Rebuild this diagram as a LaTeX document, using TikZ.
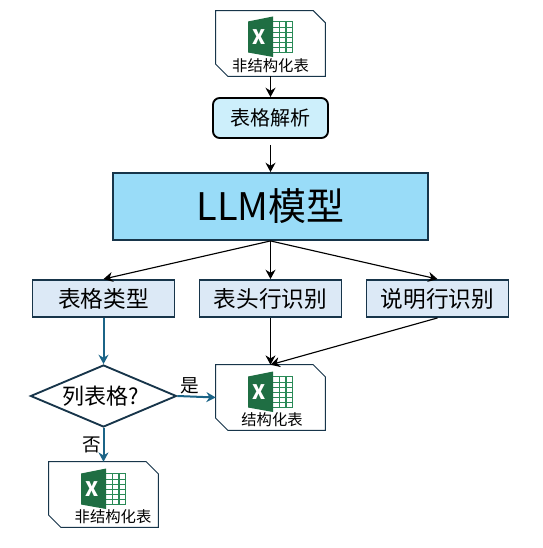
\documentclass[tikz,border=0pt]{standalone}
\usepackage{fontspec}
\setmainfont{Noto Sans CJK SC}
\usetikzlibrary{arrows.meta,shapes.geometric}
\definecolor{edgedark}{HTML}{17354A}
\definecolor{flowblue}{HTML}{1B6487}
\definecolor{parsefill}{HTML}{CDEFFB}
\definecolor{llmfill}{HTML}{99DCF8}
\definecolor{stepfill}{HTML}{DCE9F6}
\definecolor{xldark}{HTML}{1F6E43}
\definecolor{xlmid}{HTML}{2A8A57}
\tikzset{
  docframe/.style={inner sep=0pt,minimum width=81.75pt,minimum height=48.75pt},
  docedge/.style={draw=edgedark,line width=0.75pt,fill=white},
  doclabel/.style={font=\fontsize{11.5}{13}\selectfont,text=black,inner sep=0pt},
  parsebox/.style={draw=black,line width=1.4pt,rounded corners=5pt,fill=parsefill,minimum width=86.25pt,minimum height=30pt,inner sep=0pt,font=\fontsize{15}{18}\selectfont},
  llmbox/.style={draw=edgedark,line width=1.4pt,fill=llmfill,minimum width=236.25pt,minimum height=50.25pt,inner sep=0pt,font=\fontsize{28.5}{32}\selectfont},
  stepbox/.style={draw=edgedark,line width=1.4pt,fill=stepfill,minimum width=106.5pt,minimum height=27.75pt,inner sep=0pt,font=\fontsize{17}{20}\selectfont},
  choice/.style={diamond,draw=edgedark,line width=1.4pt,fill=white,aspect=2.35,minimum width=109.5pt,minimum height=46.5pt,inner sep=0pt,font=\fontsize{16.5}{20}\selectfont},
  arrowk/.style={draw=black,line width=0.85pt,-{Stealth[length=7pt,width=7.5pt]}},
  arrowb/.style={draw=flowblue,line width=1.5pt,-{Stealth[length=7pt,width=7.5pt]}},
  branch/.style={inner sep=0pt,font=\fontsize{14}{16}\selectfont},
}
% name, x, y, label text, label x offset, icon y offset
\newcommand{\docnode}[6]{%
  \node[docframe] (#1) at (#2,#3) {};
  \draw[docedge] (#1.north west) -- ([xshift=-9pt]#1.north east) -- ([yshift=-9pt]#1.north east)
     -- (#1.south east) -- ([xshift=9pt]#1.south west) -- ([yshift=9pt]#1.south west) -- cycle;
  \begin{scope}[shift={(#2,#3+#6)}]
    \draw[xlmid,line width=0.8pt] (2,-22) rectangle (22,9);
    \foreach \yy in {-16,-11,-6,-1,4} \draw[xlmid,line width=1.1pt] (2,\yy) -- (22,\yy);
    \draw[xlmid,line width=1.1pt] (9,-22) -- (9,9) (15.5,-22) -- (15.5,9);
    \fill[xldark] (-22.5,-22) -- (2.5,-27) -- (2.5,13.5) -- (-22.5,9) -- cycle;
    \node[inner sep=0pt,text=white,font=\fontsize{15}{15}\bfseries\selectfont] (#1-x) at (-11,-6.5) {X};
  \end{scope}
  \node[doclabel] (#1-t) at (#2+#5,#3+22) {#4};
}
\begin{document}
\begin{tikzpicture}[x=0.75pt,y=-0.75pt]
\useasboundingbox (0,0) rectangle (542,548);
\docnode{src}{270.5}{43.5}{非结构化表}{0}{0}
\node[parsebox] (parse) at (270.5,118) {表格解析};
\node[llmbox] (llm) at (270.5,206.5) {LLM模型};
\node[stepbox] (type) at (103.5,298.5) {表格类型};
\node[stepbox] (head) at (270.5,298.5) {表头行识别};
\node[stepbox] (note) at (437.5,298.5) {说明行识别};
\node[choice] (q) at (103.5,396) {};
\node[inner sep=0pt,font=\fontsize{16.5}{20}\selectfont] (qt) at (100.5,396) {列表格?};
\docnode{out}{270.5}{397.5}{结构化表}{1.5}{1}
\docnode{raw}{103.5}{494.5}{非结构化表}{9.5}{1}
\draw[arrowk] (src.south) -- (parse.north);
\draw[arrowk,shorten <=4.5pt] (parse.south) -- (llm.north);
\draw[arrowk] (llm.south) -- (type.north);
\draw[arrowk] (llm.south) -- (head.north);
\draw[arrowk] (llm.south) -- (note.north);
\draw[arrowb] (type.south) -- (q.north);
\draw[arrowb] (q.east) -- (out.west);
\draw[arrowb] (q.south) -- (raw.north);
\draw[arrowk] (head.south) -- (out.north);
\draw[arrowk] (note.south) -- (out.north);
\node[branch] (yes) at (190,386) {是};
\node[branch] (no) at (92,445) {否};
\end{tikzpicture}
\end{document}
